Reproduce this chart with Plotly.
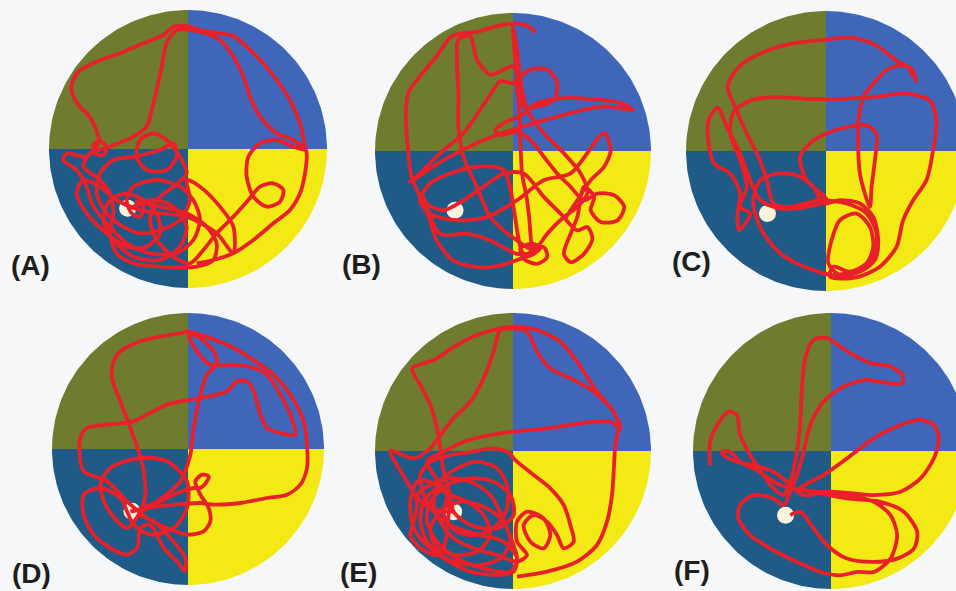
import numpy as np
import plotly.graph_objects as go

W, H = 956, 591

# Quadrant colours of the pool
OLIVE = "#6f7b2f"
BLUE = "#3f66b8"
TEAL = "#1f5b86"
YELLOW = "#f3e914"
RED = "#e8202a"
PLATFORM = "#fbf4dc"
BG = "#f6f7f8"

labels = ["(A)", "(B)", "(C)", "(D)", "(E)", "(F)"]

# ---- tracked swim paths (tracker frame units, y downward) ----
A_x = [590,640,700,760,820,870,900,915,920,
       915,900,870,830,790,740,700,660,600,560,520,
       490,430,360,290,235,215,220,240,265,285,300,
       320,310,285,280,300,260,200,190,230,260,280,330,380,450,530,580,600,580,540,470,400,380,395,420,430,410,
       480,560,620,650,640,590,480,400,350,330,340,330,300,250,270,330,400,440,455,470,485,500,530,600,
       660,700,730,750,780,830,880,915,
       880,830,780,745,740,760,800,840,850,820,780,745,700,650,610,570,
       520,470,450,470,520,560,540,500,460,420,410,440,500,530,520,480,400,340,300,290,320,370,420,480,540,570,560,600,660,700,700,
       650,560,480,420,
       350,300,250,230,260,320,380,440,480,470,430,380,330,310,340,400,480,540,560,520,460,400,395]
A_y = [790,780,760,720,670,630,580,520,460,
       440,370,300,240,190,140,108,100,90,78,80,
       105,130,160,185,215,255,290,320,345,380,420,
       440,465,460,435,420,470,460,480,510,560,620,680,730,760,760,720,660,600,560,540,560,600,640,650,620,605,
       620,640,680,730,780,800,800,790,760,700,640,580,540,500,460,440,410,380,330,270,200,130,90,95,
       120,170,230,290,350,400,420,450,
       440,420,430,470,530,590,620,605,570,550,560,600,650,700,750,790,
       770,720,660,600,560,520,470,420,400,420,470,510,510,470,430,450,470,480,520,580,640,680,700,690,660,600,540,560,620,680,760,
       700,650,640,630,
       600,560,540,580,640,700,740,740,700,640,600,580,600,660,720,770,780,740,680,620,600,620,625]

B_x = [615,600,560,500,450,400,365,320,270,235,228,235,245,275,300,320,370,440,510,570,610,630,600,570,580,620,650,640,600,
       560,520,480,440,400,385,385,380,385,420,
       440,480,510,545,565,550,510,490,450,400,330,270,240,
       350,450,560,700,820,905,870,800,700,620,575,520,495,510,560,
       600,640,680,720,760,800,850,880,860,810,780,790,760,
       740,720,700,720,760,785,770,740,
       690,640,580,520,460,400,340,290,280,
       330,410,480,560,600,
       600,590,575,570,565,560,600,650,680,670,620,580,555,548,
       560,570,590,640,700,750,770,740,700,650,620,580,
       520,440,360,300,270,300,380,470,560,640,720,820,840,820,780,740,700]
B_y = [100,85,72,80,95,102,110,170,230,280,360,450,530,600,660,720,780,800,795,775,760,740,730,745,775,790,770,740,745,
       720,690,650,560,470,380,280,170,120,110,
       180,225,215,200,225,250,245,270,330,400,460,520,545,
       475,425,385,345,320,330,310,300,295,310,345,370,390,405,395,
       420,470,520,560,600,580,585,620,660,665,630,590,560,
       650,700,760,785,760,715,680,690,
       640,590,520,520,560,600,630,610,590,
       700,700,720,760,755,
       700,600,520,420,300,250,210,210,250,300,320,320,180,80,
       150,240,330,400,460,520,580,620,650,700,740,760,
       510,500,520,550,600,640,660,650,600,540,520,400,450,500,540,600,660]

C_x = [830,815,770,710,640,550,450,370,300,262,285,320,355,380,400,450,540,620,680,710,700,650,580,520,470,420,370,345,340,360,410,470,520,550,
       600,660,700,715,705,660,600,565,575,600,650,690,700,680,630,580,
       570,650,720,770,790,820,860,880,890,870,800,700,600,500,400,330,280,270,300,320,300,330,
       296,292,300,270,222,205,205,232,260,300,330,360,420,500,560,
       500,480,520,600,680,710,705,695,690,660,655,660,670,700,745,800,820]
C_y = [245,205,180,135,112,118,130,155,195,258,320,400,470,540,610,620,600,610,640,700,770,810,825,810,790,760,700,640,590,540,520,525,560,610,
       600,610,650,720,780,815,825,790,720,660,640,680,740,790,815,800,
       830,832,800,740,660,600,540,450,360,300,280,290,295,295,290,300,335,400,480,560,620,640,
       690,640,580,520,490,430,360,322,380,460,540,600,625,620,600,
       540,470,420,385,375,400,480,560,620,520,370,330,290,250,205,195,230]

D_x = [390,440,520,600,640,720,800,860,900,920,920,910,870,820,780,700,600,560,545,480,420,360,340,335,360,390,415,430,435,420,
       380,320,300,330,420,500,560,560,520,450,400,380,
       360,300,250,250,280,330,380,410,420,450,490,530,555,555,510,460,420,
       520,580,600,620,625,605,585,600,625,630,610,560,500,440,
       380,320,250,238,240,260,320,400,440,500,600,680,710,740,760,780,800,840,885,870,840,800,760,700,630,590,565,600,640,650,620,600,580,570,540,470,400]
D_y = [650,640,630,625,630,625,610,600,570,520,450,380,300,240,210,160,120,110,115,125,140,170,200,250,320,400,470,530,600,650,
       700,640,570,520,490,500,560,640,700,720,690,650,
       610,580,600,660,720,760,780,760,700,690,760,800,830,790,730,680,660,
       600,580,580,560,545,540,560,600,640,680,710,720,700,670,
       620,560,530,480,430,400,390,380,360,330,310,290,260,260,290,360,400,415,420,360,300,240,220,210,210,170,120,130,170,205,240,300,400,480,560,620,650]

E_x = [560,650,740,800,830,845,850,855,865,850,800,740,690,620,560,510,440,380,310,245,270,300,320,330,340,360,370,
       420,500,550,540,490,420,350,300,290,320,380,460,540,560,520,450,380,320,280,270,300,360,430,480,530,560,
       610,660,700,720,730,700,680,650,610,580,600,640,660,640,590,560,560,590,560,
       500,430,370,330,310,330,380,440,500,530,530,500,440,380,340,350,
       290,340,400,480,550,650,750,840,870,850,790,720,660,620,590,540,510,490,460,420,370,330,300,250,180,230,260,250,240,270,330,
       350,300,260,240,250,300,370,450,510,540,520,470,400,340,300,320,380,440,480,460,410,360,320,280,270,290,340,420,500,550,560,530,480,420,360,300,260,300,370]
E_y = [845,830,800,750,680,600,530,450,390,350,290,200,140,105,95,100,120,150,195,220,270,330,400,460,530,600,650,
       690,700,660,600,560,550,570,620,680,740,790,820,830,790,740,720,700,660,600,540,500,480,470,460,470,500,
       540,580,630,690,740,760,720,680,660,690,740,760,720,670,650,680,740,780,800,
       780,760,730,680,620,560,520,500,520,570,640,690,720,710,660,600,
       500,470,440,420,410,400,385,380,400,350,290,250,220,170,110,100,105,170,250,320,370,420,460,490,468,560,620,680,720,760,780,
       600,560,560,620,700,760,800,810,790,740,680,640,620,640,700,760,780,770,720,660,620,600,580,620,680,740,790,830,840,830,790,700,600,560,550,570,600,640,650]

F_x = [210,210,235,265,290,300,330,370,400,430,
       450,470,480,485,495,520,560,620,690,750,785,785,740,680,610,550,510,490,470,450,430,
       400,340,300,295,330,400,470,540,600,650,700,
       750,770,750,700,620,540,480,
       550,620,700,780,840,880,895,880,840,780,700,640,560,490,
       440,400,340,290,250,245,270,300,350,
       420,520,620,720,790,830,820,770,700,620,560,520,480,450]
F_y = [510,440,385,350,360,420,480,540,580,600,
       560,470,380,280,190,135,130,170,205,215,240,265,265,255,275,320,390,470,540,590,630,
       610,600,630,670,720,765,800,830,840,830,830,
       790,720,660,620,600,590,580,
       540,490,430,390,375,390,430,490,550,590,600,595,590,600,
       560,530,510,500,480,470,470,500,525,
       570,590,610,620,650,710,760,790,800,790,750,700,650,660]

tracks_x = [A_x, B_x, C_x, D_x, E_x, F_x]
tracks_y = [A_y, B_y, C_y, D_y, E_y, F_y]

# pool calibration in tracker frame: centre x, centre y, radius
calib_cx = [564, 548, 558, 563, 548, 572]
calib_cy = [447, 453, 452, 463, 468, 468]
calib_r = [417, 412, 421, 408, 414, 413]

# hidden platform position in tracker frame
platform_x = [383, 375, 382, 395, 370, 436]
platform_y = [625, 630, 640, 650, 650, 660]

# ---- page layout of the six panels (pixels) ----
panel_cx = [188, 513, 826, 188, 513, 831]
panel_cy = [149, 151, 151, 449, 451, 451]
panel_r = [139, 138, 140, 136, 138, 138]
label_x = [30, 361, 691, 31, 358, 692]
label_y = [265, 264, 261, 573, 572, 570]

fig = go.Figure()

quads = [(90, 180, OLIVE), (0, 90, BLUE), (180, 270, TEAL), (270, 360, YELLOW)]

for i in range(6):
    cx, cy, r = panel_cx[i], panel_cy[i], panel_r[i]
    for a0, a1, col in quads:
        t = np.radians(np.linspace(a0, a1, 60))
        xs = np.concatenate([[cx], cx + r * np.cos(t), [cx]])
        ys = np.concatenate([[cy], cy - r * np.sin(t), [cy]])
        fig.add_trace(go.Scatter(x=xs, y=ys, mode="lines", fill="toself",
                                 fillcolor=col, line=dict(width=0, color=col),
                                 hoverinfo="skip", showlegend=False))
    # platform
    px = cx + (platform_x[i] - calib_cx[i]) / calib_r[i] * r
    py = cy + (platform_y[i] - calib_cy[i]) / calib_r[i] * r
    fig.add_trace(go.Scatter(x=[px], y=[py], mode="markers",
                             marker=dict(size=17, color=PLATFORM, line=dict(width=0)),
                             hoverinfo="skip", showlegend=False))
    # swim path
    tx = cx + (np.array(tracks_x[i]) - calib_cx[i]) / calib_r[i] * r
    ty = cy + (np.array(tracks_y[i]) - calib_cy[i]) / calib_r[i] * r
    fig.add_trace(go.Scatter(x=tx, y=ty, mode="lines",
                             line=dict(color=RED, width=3.8, shape="spline", smoothing=0.8),
                             hoverinfo="skip", showlegend=False))
    fig.add_annotation(x=label_x[i], y=label_y[i], text="<b>" + labels[i] + "</b>",
                       showarrow=False, xanchor="center", yanchor="middle",
                       font=dict(family="Liberation Sans, Arial, sans-serif", size=28, color="#1e1e1e"))

fig.update_layout(
    width=W, height=H,
    margin=dict(l=0, r=0, t=0, b=0),
    paper_bgcolor=BG, plot_bgcolor=BG,
    xaxis=dict(range=[0, W], visible=False, fixedrange=True),
    yaxis=dict(range=[H, 0], visible=False, fixedrange=True),
    showlegend=False,
)

fig.write_html(
    "out.html",
    config={"displayModeBar": False},
    post_script="document.body.style.margin='0';document.body.style.overflow='hidden';"
                "document.body.style.background='" + BG + "';",
)
